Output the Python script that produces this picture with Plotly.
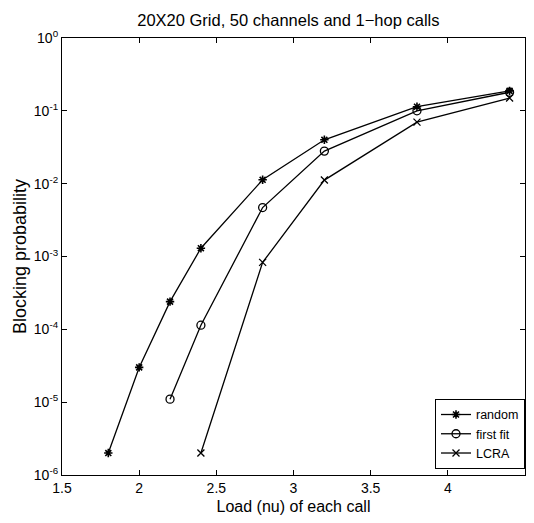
import math
import plotly.graph_objects as go

load_random = [1.8, 2.0, 2.2, 2.4, 2.8, 3.2, 3.8, 4.4]
block_random = [2e-6, 3e-5, 2.4e-4, 1.3e-3, 1.13e-2, 4.0e-2, 1.14e-1, 1.88e-1]

load_firstfit = [2.2, 2.4, 2.8, 3.2, 3.8, 4.4]
block_firstfit = [1.1e-5, 1.14e-4, 4.7e-3, 2.8e-2, 1.0e-1, 1.8e-1]

load_lcra = [2.4, 2.8, 3.2, 3.8, 4.4]
block_lcra = [2e-6, 8.3e-4, 1.12e-2, 7.0e-2, 1.5e-1]

x_ticks = [1.5, 2, 2.5, 3, 3.5, 4, 4.5]
y_exps = [0, -1, -2, -3, -4, -5, -6]
minor_vals = [m * 10.0 ** e for e in range(-6, 0) for m in range(2, 10)]

FONT = "Liberation Sans, Arial, sans-serif"

fig = go.Figure()
fig.add_trace(go.Scatter(x=load_random, y=block_random, name="random", mode="lines+markers",
                         line=dict(color="black", width=1.3),
                         marker=dict(symbol="asterisk-open", size=7, color="black", line=dict(width=1.6, color="black"))))
fig.add_trace(go.Scatter(x=load_firstfit, y=block_firstfit, name="first fit", mode="lines+markers",
                         line=dict(color="black", width=1.3),
                         marker=dict(symbol="circle-open", size=8, color="black", line=dict(width=1.3, color="black"))))
fig.add_trace(go.Scatter(x=load_lcra, y=block_lcra, name="LCRA", mode="lines+markers",
                         line=dict(color="black", width=1.3),
                         marker=dict(symbol="x-thin-open", size=7, color="black", line=dict(width=1.3, color="black"))))

# minor ticks on the log axis (left and right, pointing inward); shapes on log axes use log10 units
tick_frac = 3.5 / 463
for v in minor_vals:
    lv = math.log10(v)
    fig.add_shape(type="line", xref="paper", yref="y", x0=0, x1=tick_frac, y0=lv, y1=lv,
                  line=dict(color="black", width=1), layer="above")
    fig.add_shape(type="line", xref="paper", yref="y", x0=1 - tick_frac, x1=1, y0=lv, y1=lv,
                  line=dict(color="black", width=1), layer="above")

fig.update_layout(
    width=534, height=523,
    margin=dict(l=62, r=9, t=38, b=48),
    paper_bgcolor="white", plot_bgcolor="white",
    font=dict(family=FONT, color="black", size=12),
    title=dict(text="20X20 Grid, 50 channels and 1\u2212hop calls", x=0.54, xanchor="center",
               y=0.961, yanchor="middle", font=dict(size=16.5, family=FONT)),
    showlegend=True,
    legend=dict(x=1, xanchor="right", y=0.014, yanchor="bottom", bgcolor="white",
                bordercolor="black", borderwidth=1, font=dict(size=12.5, family=FONT),
                tracegroupgap=0, itemwidth=30),
)
fig.update_xaxes(range=[1.5, 4.5], tickvals=x_ticks, ticktext=[str(v) for v in x_ticks],
                 ticks="inside", ticklen=5, tickcolor="black", mirror="ticks",
                 showline=True, linecolor="black", linewidth=1.2, showgrid=False, zeroline=False,
                 tickfont=dict(size=14),
                 title=dict(text="Load (nu) of each call", font=dict(size=16), standoff=5))
fig.update_yaxes(type="log", range=[-6, 0], tickvals=[10 ** e for e in y_exps],
                 ticktext=["10<sup>%d</sup>" % e for e in y_exps],
                 ticks="inside", ticklen=5, tickcolor="black", mirror="ticks",
                 showline=True, linecolor="black", linewidth=1.2, showgrid=False, zeroline=False,
                 tickfont=dict(size=14),
                 title=dict(text="Blocking probability", font=dict(size=18), standoff=2))

fig.write_html("out.html")
